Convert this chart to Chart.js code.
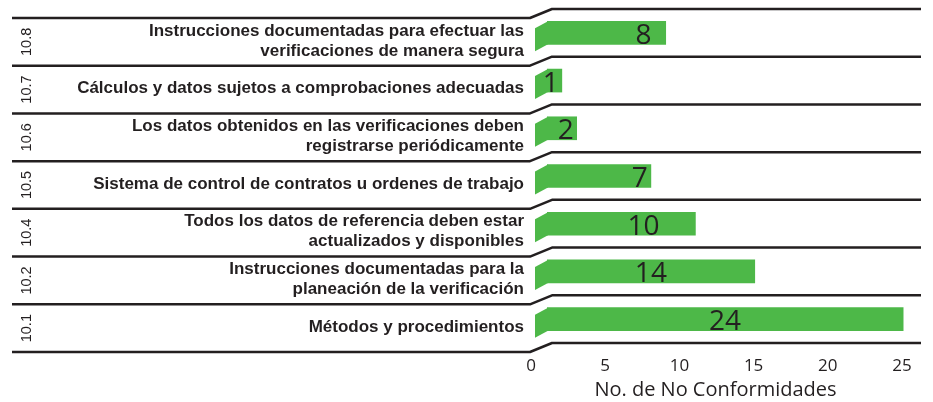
<!DOCTYPE html>
<html>
<head>
<meta charset="utf-8">
<script src="https://cdn.jsdelivr.net/npm/chart.js@4"></script>
<style>
  html, body { margin: 0; padding: 0; background: #fff; }
  #wrap { width: 933px; height: 402px; }
</style>
</head>
<body>
<div id="wrap"><canvas id="chart" width="933" height="402"></canvas></div>
<script>
// Data
const codes = ['10.8', '10.7', '10.6', '10.5', '10.4', '10.2', '10.1'];
const descriptions = [
  ['Instrucciones documentadas para efectuar las', 'verificaciones de manera segura'],
  'Cálculos y datos sujetos a comprobaciones adecuadas',
  ['Los datos obtenidos en las verificaciones deben', 'registrarse periódicamente'],
  'Sistema de control de contratos u ordenes de trabajo',
  ['Todos los datos de referencia deben estar', 'actualizados y disponibles'],
  ['Instrucciones documentadas para la', 'planeación de la verificación'],
  'Métodos y procedimientos'
];
const noConformidades = [8, 1, 2, 7, 10, 14, 24];
const xMax = 25;
const xStep = 5;
const xTitle = 'No. de No Conformidades';

const ink = '#231f20';
const green = '#4db848';
const shift = 9;     // step between front and back plane

// lines, folded bar ends, codes, values and axis title
const stepPlugin = {
  id: 'steps',
  beforeDatasetsDraw(chart) {
    const ctx = chart.ctx;
    const meta = chart.getDatasetMeta(0);
    ctx.save();
    ctx.fillStyle = green;
    meta.data.forEach(function(bar) {
      const h = bar.height;
      ctx.beginPath();
      ctx.moveTo(bar.base + 1, bar.y - h / 2);
      ctx.lineTo(bar.base - 12, bar.y - h / 2 + 7);
      ctx.lineTo(bar.base - 12, bar.y + h / 2 + 7);
      ctx.lineTo(bar.base + 1, bar.y + h / 2);
      ctx.closePath();
      ctx.fill();
    });
    ctx.restore();
  },
  afterDatasetsDraw(chart) {
    const ctx = chart.ctx;
    const area = chart.chartArea;
    const ys = chart.scales.y;
    const xs = chart.scales.x;
    const n = codes.length;
    const band = (ys.bottom - ys.top) / n;

    ctx.save();
    ctx.strokeStyle = ink;
    ctx.lineWidth = 2.5;
    ctx.lineJoin = 'round';
    for (let i = 0; i <= n; i++) {
      const yb = ys.top + band * i;
      ctx.beginPath();
      ctx.moveTo(12, yb + shift);
      ctx.lineTo(area.left - 17, yb + shift);
      ctx.lineTo(area.left + 5, yb);
      ctx.lineTo(area.right + 3, yb);
      ctx.stroke();
    }

    // rotated section codes
    ctx.fillStyle = ink;
    ctx.font = '14.5px "Liberation Sans", Arial, sans-serif';
    ctx.textAlign = 'center';
    ctx.textBaseline = 'middle';
    codes.forEach(function(c, i) {
      ctx.save();
      ctx.translate(27, ys.getPixelForTick(i) + 9);
      ctx.rotate(-Math.PI / 2);
      ctx.fillText(c, 0, 0);
      ctx.restore();
    });

    // values inside the bars
    ctx.font = '28px "Open Sans", sans-serif';
    ctx.textBaseline = 'alphabetic';
    const meta = chart.getDatasetMeta(0);
    meta.data.forEach(function(bar, i) {
      const txt = String(noConformidades[i]);
      const w = ctx.measureText(txt).width;
      let x = Math.max((bar.base + bar.x) / 2, xs.getPixelForValue(6.5));
      x = Math.min(x, bar.x - w / 2 - 3);
      ctx.fillText(txt, x, bar.y + 11);
    });

    // axis title, centred under the tick labels
    ctx.font = '20px "Open Sans", sans-serif';
    ctx.textBaseline = 'middle';
    const cx = (xs.getPixelForValue(0) + xs.getPixelForValue(xMax)) / 2 - 17;
    ctx.fillText(xTitle, cx, 390);
    ctx.restore();
  }
};

new Chart(document.getElementById('chart'), {
  type: 'bar',
  data: {
    labels: descriptions,
    datasets: [{
      data: noConformidades,
      backgroundColor: green,
      borderWidth: 0,
      barThickness: 23
    }]
  },
  options: {
    indexAxis: 'y',
    responsive: false,
    animation: false,
    devicePixelRatio: 1,
    layout: { padding: { top: 9, right: 15, bottom: 0, left: 0 } },
    plugins: {
      legend: { display: false },
      tooltip: { enabled: false }
    },
    scales: {
      x: {
        min: 0,
        max: xMax,
        grid: { display: false, drawTicks: false },
        border: { display: false },
        ticks: {
          stepSize: xStep,
          color: ink,
          padding: 13,
          labelOffset: -16,
          font: { family: '"Open Sans", sans-serif', size: 17 }
        },
        afterFit: function(s) {
          s.height = 59;
          s.paddingLeft = 0;
          s.paddingRight = 0;
        }
      },
      y: {
        grid: { display: false, drawTicks: false },
        border: { display: false },
        ticks: {
          color: ink,
          padding: 23,
          labelOffset: 8,
          autoSkip: false,
          font: { family: '"Liberation Sans", Arial, sans-serif', size: 17, weight: 'bold', lineHeight: 1.18 }
        },
        afterFit: function(s) {
          s.width = 547;
          s.paddingTop = 0;
          s.paddingBottom = 0;
        }
      }
    }
  },
  plugins: [stepPlugin]
});
</script>
</body>
</html>
